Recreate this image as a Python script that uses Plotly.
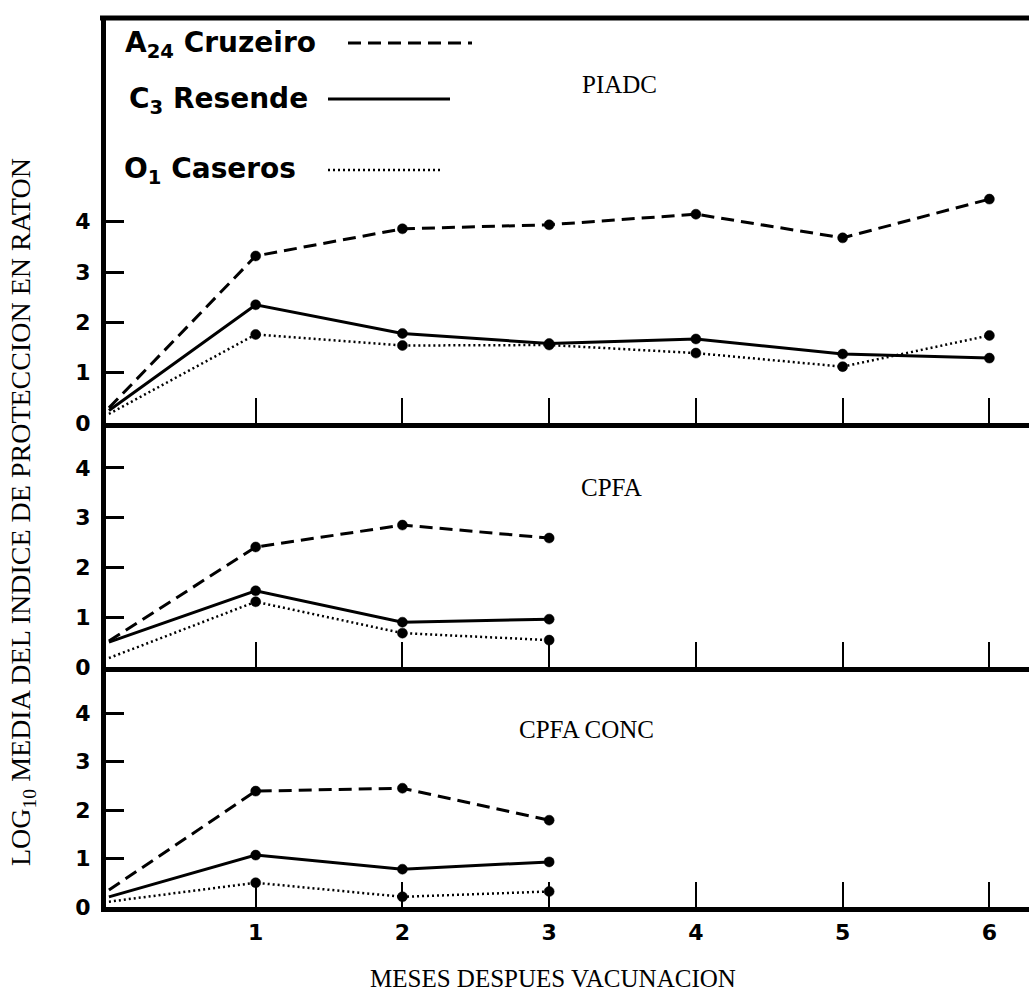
import plotly.graph_objects as go

# ---- data ----
months_full = [0, 1, 2, 3, 4, 5, 6]
months_short = [0, 1, 2, 3]
month_ticks = [1, 2, 3, 4, 5, 6]
month_labels = ["1", "2", "3", "4", "5", "6"]
y_ticks = [0, 1, 2, 3, 4]
y_labels = ["0", "1", "2", "3", "4"]

piadc_a24 = [0.30, 3.32, 3.86, 3.94, 4.15, 3.68, 4.45]
piadc_c3 = [0.25, 2.35, 1.78, 1.58, 1.67, 1.37, 1.29]
piadc_o1 = [0.18, 1.76, 1.54, 1.55, 1.39, 1.12, 1.74]

cpfa_a24 = [0.52, 2.41, 2.85, 2.59]
cpfa_c3 = [0.50, 1.53, 0.90, 0.96]
cpfa_o1 = [0.18, 1.31, 0.68, 0.54]

conc_a24 = [0.35, 2.39, 2.45, 1.79]
conc_c3 = [0.21, 1.07, 0.78, 0.93]
conc_o1 = [0.11, 0.50, 0.21, 0.32]

panel_names = ["PIADC", "CPFA", "CPFA CONC"]
legend_names = ["A<sub>24</sub> Cruzeiro", "C<sub>3</sub> Resende", "O<sub>1</sub> Caseros"]

# ---- geometry helpers (pixel -> paper) ----
W, H = 1029, 994
L, T, B, R = 106, 18, 907, 1029
def px_x(px):
    return (px - L) / (R - L)
def px_y(py):
    return (B - py) / (B - T)

styles = [
    dict(color="black", width=3, dash="13px,7px"),
    dict(color="black", width=3),
    dict(color="black", width=2.5, dash="2px,3px"),
]

fig = go.Figure()

panels = [
    (months_full, [piadc_a24, piadc_c3, piadc_o1], "x", "y"),
    (months_short, [cpfa_a24, cpfa_c3, cpfa_o1], "x2", "y2"),
    (months_short, [conc_a24, conc_c3, conc_o1], "x3", "y3"),
]
for xs, series, xa, ya in panels:
    for vals, st, nm in zip(series, styles, legend_names):
        sizes = [0] + [10] * (len(xs) - 1)
        fig.add_trace(go.Scatter(
            x=xs, y=vals, mode="lines+markers", name=nm,
            line=st,
            marker=dict(color="black", size=sizes, opacity=1,
                        line=dict(color="black", width=0.5)),
            xaxis=xa, yaxis=ya, showlegend=False, cliponaxis=False,
        ))

tickfont = dict(family="DejaVu Sans", size=22, color="black", weight="bold")
xcommon = dict(
    range=[-0.02, 6.27], tickvals=month_ticks, ticktext=month_labels,
    ticks="inside", ticklen=25, tickwidth=2, tickcolor="black",
    showline=True, linewidth=5, linecolor="black",
    showgrid=False, zeroline=False, tickfont=tickfont,
)
ycommon = dict(
    tickvals=y_ticks, ticktext=y_labels,
    ticks="inside", ticklen=18, tickwidth=2.5, tickcolor="black",
    showline=True, linewidth=5, linecolor="black",
    showgrid=False, zeroline=False, tickfont=tickfont, ticklabelstandoff=6,
)

d3 = px_y(667)
d2 = px_y(423)
fig.update_layout(
    width=W, height=H,
    margin=dict(l=L, r=W - R, t=T, b=H - B),
    paper_bgcolor="white", plot_bgcolor="white",
    xaxis=dict(**xcommon, anchor="y", showticklabels=False),
    xaxis2=dict(**xcommon, anchor="y2", showticklabels=False),
    xaxis3=dict(**xcommon, anchor="y3", showticklabels=True, ticklabelstandoff=2),
    yaxis=dict(**ycommon, domain=[d2, 1], range=[0, 8.05], anchor="x"),
    yaxis2=dict(**ycommon, domain=[d3, d2], range=[0, 4.9], anchor="x2"),
    yaxis3=dict(**ycommon, domain=[0, d3], range=[0, 4.95], anchor="x3"),
)

# top border
fig.add_shape(type="line", xref="paper", yref="paper",
              x0=px_x(100), x1=1, y0=1, y1=1,
              line=dict(color="black", width=5))

# legend (text + line sample)
leg_text_x = [123, 127, 122]
leg_y = [44, 100, 171]
leg_line = [(348, 472), (328, 450), (328, 443)]
legfont = dict(family="DejaVu Sans", size=28, color="black", weight="bold")
for nm, tx, ty, (lx0, lx1), st in zip(legend_names, leg_text_x, leg_y, leg_line, styles):
    fig.add_annotation(x=px_x(tx), y=px_y(ty), xref="paper", yref="paper",
                       text=nm, showarrow=False, xanchor="left", yanchor="middle",
                       font=legfont)
    fig.add_shape(type="line", xref="paper", yref="paper",
                  x0=px_x(lx0), x1=px_x(lx1), y0=px_y(ty - 1), y1=px_y(ty - 1),
                  line=dict(color="black", width=2.5 if st.get("dash") == "2px,3px" else 3,
                            dash=st.get("dash", "solid")))

# panel labels
serif = dict(family="Liberation Serif", size=25, color="black")
for nm, cx, cy in zip(panel_names, [619, 611, 586], [84, 488, 729]):
    fig.add_annotation(x=px_x(cx), y=px_y(cy), xref="paper", yref="paper",
                       text=nm, showarrow=False, xanchor="center", yanchor="middle",
                       font=serif)

# axis titles
fig.add_annotation(x=px_x(22), y=px_y(512), xref="paper", yref="paper",
                   text="LOG<sub>10</sub> MEDIA DEL INDICE DE PROTECCION EN RATON",
                   showarrow=False, textangle=-90, xanchor="center", yanchor="middle",
                   font=dict(family="Liberation Serif", size=28, color="black"))
fig.add_annotation(x=px_x(553), y=px_y(978), xref="paper", yref="paper",
                   text="MESES DESPUES VACUNACION",
                   showarrow=False, xanchor="center", yanchor="middle",
                   font=dict(family="Liberation Serif", size=25, color="black"))

fig.write_html("out.html", config={"displayModeBar": False},
               post_script="document.body.style.margin='0';")
